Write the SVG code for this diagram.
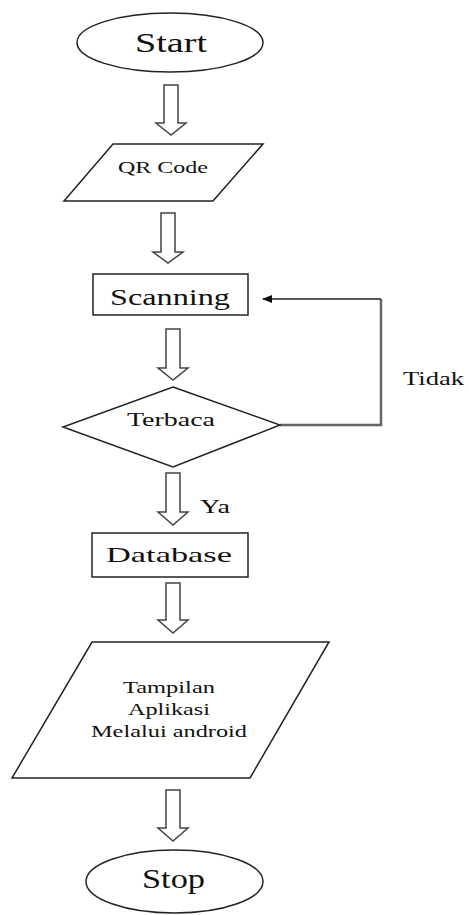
<svg xmlns="http://www.w3.org/2000/svg" width="469" height="915" viewBox="0 0 469 915">
<style>
.shape{fill:#fff;stroke:#222;stroke-width:1.5}
.fat{fill:#fff;stroke:#444;stroke-width:1.5;stroke-linejoin:miter}
text{font-family:"Liberation Serif","Times New Roman",serif;fill:#111;text-anchor:middle}
</style>
<defs>
<marker id="ah" markerWidth="10" markerHeight="8" refX="9" refY="4" orient="auto" markerUnits="userSpaceOnUse">
<path d="M0,0 L10,4 L0,8 z" fill="#111"/>
</marker>
</defs>
<rect width="469" height="915" fill="#fff"/>
<g id="connectors">
<polygon class="fat" points="164,85 178,85 178,123 186,123 171,135 156,123 164,123"/>
<polygon class="fat" points="161,213 175,213 175,252 183,252 168,263 153,252 161,252"/>
<polygon class="fat" points="166,329 180,329 180,368 188,368 173,380 158,368 166,368"/>
<polygon class="fat" points="166,473 180,473 180,512 188,512 173,525 158,512 166,512"/>
<polygon class="fat" points="166,583 180,583 180,620 188,620 173,633 158,620 166,620"/>
<polygon class="fat" points="166,790 180,790 180,828 188,828 173,841 158,828 166,828"/>
<polyline points="280,425 381,425 381,299" fill="none" stroke="#666" stroke-width="2.5"/>
<line x1="381" y1="299" x2="263" y2="299" stroke="#222" stroke-width="1.5" marker-end="url(#ah)"/>
<text x="433.5" y="385" font-size="19" textLength="61" lengthAdjust="spacingAndGlyphs">Tidak</text>
<text x="215" y="513" font-size="19" textLength="30" lengthAdjust="spacingAndGlyphs">Ya</text>
</g>
<g id="start">
<ellipse class="shape" cx="170" cy="42.5" rx="93" ry="29.5"/>
<text x="171" y="52" font-size="27" textLength="72" lengthAdjust="spacingAndGlyphs">Start</text>
</g>
<g id="qrcode">
<polygon class="shape" points="113,144 263,144 213,201 64,201"/>
<text x="163" y="173" font-size="16" textLength="90" lengthAdjust="spacingAndGlyphs">QR Code</text>
</g>
<g id="scanning">
<rect class="shape" x="93" y="274" width="155" height="41"/>
<text x="170" y="305" font-size="23" textLength="120" lengthAdjust="spacingAndGlyphs">Scanning</text>
</g>
<g id="terbaca">
<polygon class="shape" points="173,387 280,425 173,467 63,427"/>
<text x="171" y="426" font-size="19" textLength="88" lengthAdjust="spacingAndGlyphs">Terbaca</text>
</g>
<g id="database">
<rect class="shape" x="92" y="533" width="156" height="44"/>
<text x="169" y="562" font-size="21" textLength="126" lengthAdjust="spacingAndGlyphs">Database</text>
</g>
<g id="tampilan">
<polygon class="shape" points="92,642 329,642 250,778 12,778"/>
<text x="169" y="693" font-size="17" textLength="92" lengthAdjust="spacingAndGlyphs">Tampilan</text>
<text x="169" y="715" font-size="17" textLength="82" lengthAdjust="spacingAndGlyphs">Aplikasi</text>
<text x="169" y="737" font-size="17" textLength="156" lengthAdjust="spacingAndGlyphs">Melalui android</text>
</g>
<g id="stop">
<ellipse class="shape" cx="174.5" cy="881.5" rx="88.5" ry="31.5"/>
<text x="173.5" y="888" font-size="27" textLength="63" lengthAdjust="spacingAndGlyphs">Stop</text>
</g>
</svg>
